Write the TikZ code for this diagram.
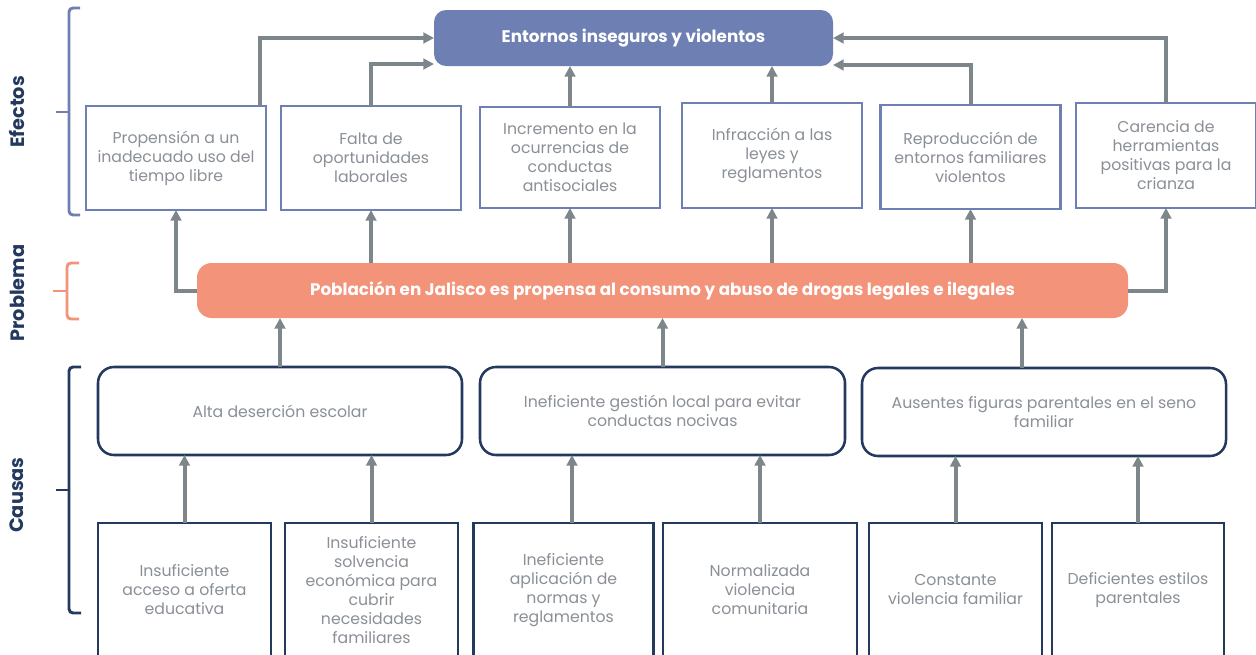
\documentclass[tikz,border=0pt]{standalone}
\usepackage{fontspec}
\setmainfont{Poppins}
\usetikzlibrary{arrows.meta,calc}
\definecolor{effblue}{HTML}{6E7FB3}
\definecolor{salmon}{HTML}{F2937A}
\definecolor{navy}{HTML}{24395E}
\definecolor{arrgray}{HTML}{7C868B}
\definecolor{txtgray}{HTML}{8A9096}
\begin{document}
\begin{tikzpicture}[x=0.75pt,y=-0.75pt,
  wh/.style 2 args={minimum width=#1*0.75pt, minimum height=#2*0.75pt},
  bodytext/.style={text=txtgray, align=center, font=\fontsize{11.8}{14.25}\selectfont, inner sep=0pt, outer sep=0pt},
  effbox/.style={bodytext, draw=effblue, line width=1.9pt, fill=white},
  midbox/.style={bodytext, draw=navy, line width=1.9pt, fill=white, rounded corners=12pt},
  causebox/.style={bodytext, draw=navy, line width=1.9pt, fill=white},
  topbox/.style={fill=effblue, text=white, font=\fontsize{12.6}{15}\selectfont\bfseries, rounded corners=9pt, inner sep=0pt, outer sep=0pt},
  probbox/.style={fill=salmon, text=white, font=\fontsize{12.6}{15}\selectfont\bfseries, rounded corners=11pt, inner sep=0pt, outer sep=0pt},
  arr/.style={draw=arrgray, line width=3pt, -{Triangle[length=8pt,width=8pt]}},
  lbl/.style={text=navy, font=\fontsize{14.5}{16}\selectfont\bfseries, rotate=90, inner sep=0pt},
  brk/.style={line width=2.2pt, rounded corners=3pt}
]
\useasboundingbox (0,0) rectangle (1256,654);

% brackets and side labels
\draw[brk, effblue] (80,8) -- (69,8) -- (69,215) -- (80,215);
\draw[brk, effblue] (69,112) -- (56,112);
\draw[brk, salmon] (79,263) -- (67,263) -- (67,319) -- (79,319);
\draw[brk, salmon] (67,291) -- (53,291);
\draw[brk, navy] (81,367) -- (69,367) -- (69,613) -- (81,613);
\draw[brk, navy] (69,490) -- (56,490);
\node[lbl] (lef) at (17,112) {Efectos};
\node[lbl] (lpr) at (17,293) {Problema};
\node[lbl] (lca) at (17,495) {Causas};

% top and problem
\node[topbox, wh={399}{56}] (top) at (633.5,38) {Entornos inseguros y violentos};
\node[probbox, wh={931}{55}] (prob) at (662.5,290.5) {Población en Jalisco es propensa al consumo y abuso de drogas legales e ilegales};

% effects
\node[effbox, wh={180}{104}] (e1) at (176,158) {Propensión a un\\inadecuado uso del\\tiempo libre};
\node[effbox, wh={180}{104}] (e2) at (371,158) {Falta de\\oportunidades\\laborales};
\node[effbox, wh={180}{101}] (e3) at (570,157.5) {Incremento en la\\ocurrencias de\\conductas\\antisociales};
\node[effbox, wh={180}{105}] (e4) at (772,155.5) {Infracción a las\\leyes y\\reglamentos};
\node[effbox, wh={180}{104}] (e5) at (970.5,157) {Reproducción de\\entornos familiares\\violentos};
\node[effbox, wh={180}{105}] (e6) at (1166,155.5) {Carencia de\\herramientas\\positivas para la\\crianza};

% middle causes
\node[midbox, wh={364}{88}] (c1) at (280,411) {Alta deserción escolar};
\node[midbox, wh={365}{88}] (c2) at (662.5,411) {Ineficiente gestión local para evitar\\conductas nocivas};
\node[midbox, wh={364}{88}] (c3) at (1044,412) {Ausentes figuras parentales en el seno\\familiar};

% bottom causes
\node[causebox, wh={173}{134}] (b1) at (184.5,590) {Insuficiente\\acceso a oferta\\educativa};
\node[causebox, wh={173}{134}] (b2) at (371.5,590) {Insuficiente\\solvencia\\económica para\\cubrir\\necesidades\\familiares};
\node[causebox, wh={180}{134}] (b3) at (563.5,590) {Ineficiente\\aplicación de\\normas y\\reglamentos};
\node[causebox, wh={194}{134}] (b4) at (760,590) {Normalizada\\violencia\\comunitaria};
\node[causebox, wh={173}{134}] (b5) at (955.5,590) {Constante\\violencia familiar};
\node[causebox, wh={172}{134}] (b6) at (1138,590) {Deficientes estilos\\parentales};

% bottom -> middle
\draw[arr] (b1.north) -- (b1.north |- c1.south);
\draw[arr] (b2.north) -- (b2.north |- c1.south);
\coordinate (b3a) at ($(b3.north)+(8.5,0)$);
\draw[arr] (b3a) -- (b3a |- c2.south);
\draw[arr] (b4.north) -- (b4.north |- c2.south);
\draw[arr] (b5.north) -- (b5.north |- c3.south);
\draw[arr] (b6.north) -- (b6.north |- c3.south);

% middle -> problem
\draw[arr] (c1.north) -- (c1.north |- prob.south);
\draw[arr] (c2.north) -- (c2.north |- prob.south);
\coordinate (c3a) at ($(c3.north)+(-22,0)$);
\draw[arr] (c3a) -- (c3a |- prob.south);

% problem -> effects
\draw[arr] (prob.west) -| (e1.south);
\draw[arr] (e2.south |- prob.north) -- (e2.south);
\draw[arr] (e3.south |- prob.north) -- (e3.south);
\draw[arr] (e4.south |- prob.north) -- (e4.south);
\draw[arr] (e5.south |- prob.north) -- (e5.south);
\draw[arr] (prob.east) -| (e6.south);

% effects -> top
\coordinate (e1a) at ($(e1.north)+(84,0)$);
\draw[arr] (e1a) |- (top.west);
\draw[arr] (e2.north) |- ($(top.west)+(0,26)$);
\draw[arr] (e3.north) -- (e3.north |- top.south);
\draw[arr] (e4.north) -- (e4.north |- top.south);
\draw[arr] (e5.north) |- ($(top.east)+(0,27)$);
\draw[arr] (e6.north) |- (top.east);
\end{tikzpicture}
\end{document}
